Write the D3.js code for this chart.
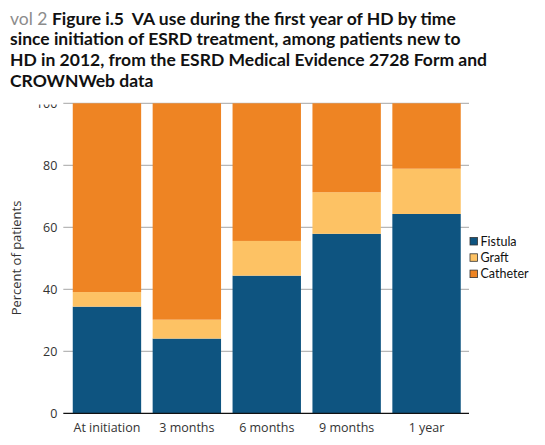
<!DOCTYPE html>
<html><head><meta charset="utf-8">
<script src="https://cdn.jsdelivr.net/npm/d3@7"></script>
<style>body{margin:0;background:#fff}svg{display:block}</style>
</head><body>
<svg id="c" width="545" height="445"></svg>
<script>
const categories = ["At initiation","3 months","6 months","9 months","1 year"];
const fistula  = [34.4, 24.1, 44.4, 57.9, 64.3];
const graft    = [4.7, 6.1, 11.2, 13.4, 14.6];
const catheter = [60.9, 69.8, 44.4, 28.7, 21.1];
const seriesNames = ["Fistula","Graft","Catheter"];
const yTicks = [0,20,40,60,80,100];

const colors = {Fistula:"#0e5480", Graft:"#fdc264", Catheter:"#ee8423"};
const svg = d3.select("#c");
const x = d3.scaleBand().domain(categories).range([67,466.5]).paddingInner(0.144).paddingOuter(0.072);
const y = d3.scaleLinear().domain([0,100]).range([413.3,103.3]);

const rows = categories.map((c,i)=>({cat:c, Fistula:fistula[i], Graft:graft[i], Catheter:catheter[i]}));
const stack = d3.stack().keys(seriesNames)(rows);

// grid
svg.append("g").selectAll("line").data(yTicks.filter(t=>t>0)).join("line")
  .attr("x1",63.3).attr("x2",469).attr("y1",d=>y(d)).attr("y2",d=>y(d))
  .attr("stroke","#a6a6a6").attr("stroke-width",1);

// bars
svg.append("g").selectAll("g").data(stack).join("g").attr("fill",d=>colors[d.key])
  .selectAll("rect").data(d=>d).join("rect")
  .attr("x",d=>x(d.data.cat)).attr("width",x.bandwidth())
  .attr("y",d=>y(d[1])).attr("height",d=>y(d[0])-y(d[1]));

// y axis
const ya = svg.append("g").attr("transform","translate(63.3,0)")
  .call(d3.axisLeft(y).tickValues(yTicks).tickSize(0).tickPadding(6));
ya.select(".domain").remove();
ya.selectAll("text").attr("font-family","Open Sans").attr("font-size",12.5).attr("fill","#333");

// x axis
svg.append("line").attr("x1",63.3).attr("x2",469).attr("y1",y(0)).attr("y2",y(0)).attr("stroke","#111").attr("stroke-width",1.2);
const xa = svg.append("g").attr("transform",`translate(0,${y(0)})`).call(d3.axisBottom(x).tickSize(0).tickPadding(10));
xa.select(".domain").remove();
xa.selectAll("text").attr("font-family","Open Sans").attr("font-size",12.5).attr("fill","#333");

svg.append("text").attr("transform","translate(21,258) rotate(-90)").attr("text-anchor","middle")
  .attr("font-family","Open Sans").attr("font-size",13).attr("fill","#333").text("Percent of patients");

// legend
const lg = svg.append("g").selectAll("g").data(seriesNames).join("g")
  .attr("transform",(d,i)=>`translate(470,${237.5+i*16.3})`);
lg.append("rect").attr("width",7.5).attr("height",7.5).attr("fill",d=>colors[d]).attr("stroke","#333").attr("stroke-width",0.8);
lg.append("text").attr("x",10.5).attr("y",8).attr("font-family","Lato").attr("font-size",12.5).attr("fill","#111").text(d=>d);

// cover top (clips 100 label like reference)
svg.append("rect").attr("x",0).attr("y",0).attr("width",545).attr("height",101).attr("fill","#fff");
svg.append("rect").attr("x",0).attr("y",0).attr("width",62).attr("height",104.5).attr("fill","#fff");

// title
const titleLines = [
  ["vol 2 ","Figure i.5  VA use during the first year of HD by time"],
  ["","since initiation of ESRD treatment, among patients new to"],
  ["","HD in 2012, from the ESRD Medical Evidence 2728 Form and"],
  ["","CROWNWeb data"]
];
titleLines.forEach((l,i)=>{
  const t = svg.append("text").attr("x",10).attr("y",24.5+i*20.8)
    .style("white-space","pre")
    .attr("font-family","Lato").attr("font-size",17.5).attr("font-weight","bold").attr("fill","#111");
  if(l[0]) t.append("tspan").attr("fill","#8c8c8c").attr("font-weight","normal").text(l[0]);
  t.append("tspan").text(l[1]);
});
</script>
</body></html>
